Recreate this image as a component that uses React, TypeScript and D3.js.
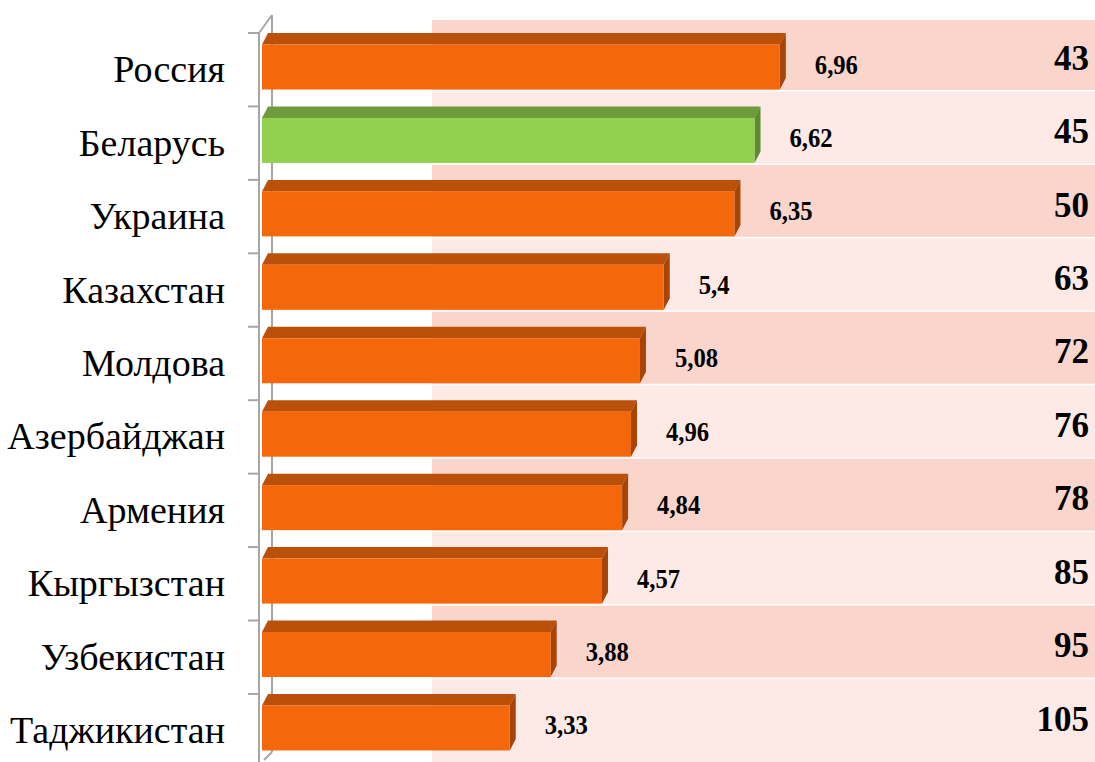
import React from "react";
import * as d3 from "d3";

const countries = [
  "Россия",
  "Беларусь",
  "Украина",
  "Казахстан",
  "Молдова",
  "Азербайджан",
  "Армения",
  "Кыргызстан",
  "Узбекистан",
  "Таджикистан",
];
const values = [6.96, 6.62, 6.35, 5.4, 5.08, 4.96, 4.84, 4.57, 3.88, 3.33];
const ranks = [43, 45, 50, 63, 72, 76, 78, 85, 95, 105];
const highlighted = "Беларусь";

const W = 1095;
const H = 762;

const ORANGE = { front: "#f4670b", top: "#bb500a", side: "#a64507" };
const GREEN = { front: "#92d050", top: "#6e9b3c", side: "#5e8a30" };

const SERIF = "Liberation Serif, Tinos, Times New Roman, DejaVu Serif, serif";

export default function App() {
  const x = d3.scaleLinear().domain([0, 7]).range([262, 262 + 7 * 74.4]);
  const y = d3
    .scaleBand<string>()
    .domain(countries)
    .range([33, 33 + countries.length * 73.44])
    .paddingInner(0)
    .paddingOuter(0);
  const bw = y.bandwidth();
  const topH = 11.5;
  const frontH = 45;
  const dx = 6;

  const fmt = (v: number) => String(v).replace(".", ",");

  const bandLeft = 432;

  return (
    <svg
      width={W}
      height={H}
      style={{ position: "absolute", left: 0, top: 0, background: "#fff" }}
    >
      {/* background bands */}
      {countries.map((c, i) => {
        const t = y(c)!;
        const bottom = t + topH + frontH + 0.5;
        const top = i === 0 ? 20 : bottom - bw + 1.5;
        const b = i === countries.length - 1 ? H : bottom;
        return (
          <rect
            key={"band" + c}
            x={bandLeft}
            y={top}
            width={W - bandLeft}
            height={b - top}
            fill={i % 2 === 0 ? "#f9d5cc" : "#fdeae6"}
          />
        );
      })}

      {/* axis */}
      <g stroke="#a6a6a6" strokeWidth={2} fill="none">
        <line x1={272} y1={15} x2={272} y2={752} />
        <line x1={259} y1={33} x2={259} y2={H} />
        <line x1={259} y1={33} x2={272} y2={15} />
        <line x1={264} y1={760} x2={272} y2={752} />
        {d3.range(countries.length + 1).map((k) => {
          const ty = 33 + k * bw;
          return <line key={"t" + k} x1={248} y1={ty} x2={259} y2={ty} />;
        })}
      </g>

      {/* bars */}
      {countries.map((c, i) => {
        const t = y(c)!;
        const x0 = x(0);
        const x1 = x(values[i]);
        const col = c === highlighted ? GREEN : ORANGE;
        const ft = t + topH;
        const fb = ft + frontH;
        return (
          <g key={"bar" + c}>
            <polygon
              points={`${x0},${ft} ${x0 + dx},${t} ${x1 + dx},${t} ${x1},${ft}`}
              fill={col.top}
            />
            <polygon
              points={`${x1},${ft} ${x1 + dx},${t} ${x1 + dx},${fb - topH} ${x1},${fb}`}
              fill={col.side}
            />
            <rect x={x0} y={ft} width={x1 - x0} height={frontH} fill={col.front} />
          </g>
        );
      })}

      {/* category labels */}
      {countries.map((c) => (
        <text
          key={"lab" + c}
          x={225}
          y={y(c)! + bw / 2 + 12.5}
          textAnchor="end"
          style={{ fontFamily: SERIF }}
          fontSize={38}
          fill="#000"
        >
          {c}
        </text>
      ))}

      {/* value labels */}
      {countries.map((c, i) => {
        const lx = x(values[i]) + 35;
        const ly = y(c)! + 40.5;
        return (
          <text
            key={"val" + c}
            transform={`translate(${lx},${ly}) scale(0.88,1)`}
            style={{ fontFamily: SERIF }}
            fontWeight="bold"
            fontSize={28}
            fill="#000"
          >
            {fmt(values[i])}
          </text>
        );
      })}

      {/* ranks */}
      {countries.map((c, i) => (
        <text
          key={"rank" + c}
          x={1089}
          y={y(c)! + bw / 2}
          textAnchor="end"
          style={{ fontFamily: SERIF }}
          fontWeight="bold"
          fontSize={35}
          fill="#000"
        >
          {ranks[i]}
        </text>
      ))}
    </svg>
  );
}
